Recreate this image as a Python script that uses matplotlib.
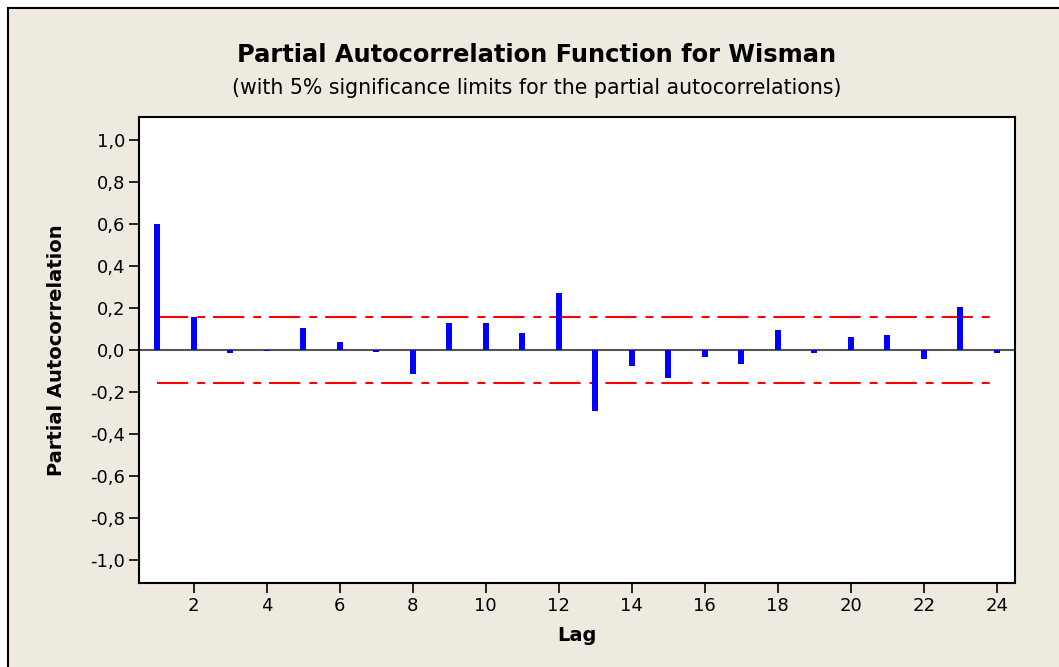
import matplotlib
matplotlib.use("Agg")
import matplotlib.pyplot as plt
from matplotlib.patches import Rectangle
from matplotlib.lines import Line2D

lags = list(range(1, 25))
pacf = [0.60, 0.156, -0.016, -0.005, 0.105, 0.038, -0.010, -0.114,
        0.130, 0.130, 0.079, 0.270, -0.290, -0.075, -0.133, -0.033,
        -0.067, 0.097, -0.016, 0.063, 0.070, -0.043, 0.203, -0.016]
sig_limit = 0.158

ytick_vals = [-1.0, -0.8, -0.6, -0.4, -0.2, 0.0, 0.2, 0.4, 0.6, 0.8, 1.0]
ytick_labels = ["-1,0", "-0,8", "-0,6", "-0,4", "-0,2", "0,0",
                "0,2", "0,4", "0,6", "0,8", "1,0"]
xtick_vals = list(range(2, 25, 2))

bg = "#EEEAE0"
W, H = 1059, 667

fig = plt.figure(figsize=(W / 100, H / 100), dpi=100)
fig.patch.set_facecolor("white")

# beige panel with a black frame on the top and left edges
fig.patches.append(Rectangle((8 / W, 0), 1, 1 - 8 / H, transform=fig.transFigure,
                             facecolor=bg, edgecolor="none", zorder=-10))
fig.lines.append(Line2D([8 / W, 8 / W], [0, 1 - 8 / H], transform=fig.transFigure,
                        color="black", lw=1.5, zorder=-5))
fig.lines.append(Line2D([8 / W, 1], [1 - 8 / H, 1 - 8 / H], transform=fig.transFigure,
                        color="black", lw=1.5, zorder=-5))

ax = fig.add_axes([139 / W, 1 - 583 / H, (1015 - 139) / W, (583 - 117) / H])
ax.set_facecolor("white")

ax.axhline(0, color="#555555", lw=1.5, zorder=1)
ax.vlines(lags, 0, pacf, color="#0000FF", lw=4.3, zorder=3)

dash = (0, (15, 4.3, 3.8, 3.8))
for s in (sig_limit, -sig_limit):
    ax.plot([lags[0], lags[-1]], [s, s], color="#FF0000", lw=1.5,
            linestyle=dash, zorder=2)

ax.set_xlim(0.5, 24.5)
ax.set_ylim(-1.11, 1.11)
ax.set_xticks(xtick_vals)
ax.set_xticklabels([str(v) for v in xtick_vals])
ax.set_yticks(ytick_vals)
ax.set_yticklabels(ytick_labels)

for sp in ax.spines.values():
    sp.set_linewidth(1.5)
ax.tick_params(axis="both", direction="out", length=7, width=1.2,
               labelsize=13, pad=3, colors="black")

ax.set_xlabel("Lag", fontsize=14, fontweight="bold", labelpad=8)
ax.set_ylabel("Partial Autocorrelation", fontsize=14, fontweight="bold", labelpad=17)

fig.text(537 / W, 1 - 55 / H,
         "Partial Autocorrelation Function for Wisman",
         ha="center", va="center", fontsize=17.4, fontweight="bold")
fig.text(537 / W, 1 - 88 / H,
         "(with 5% significance limits for the partial autocorrelations)",
         ha="center", va="center", fontsize=14.8)

fig.savefig("out.png", dpi=100, facecolor=fig.get_facecolor())
